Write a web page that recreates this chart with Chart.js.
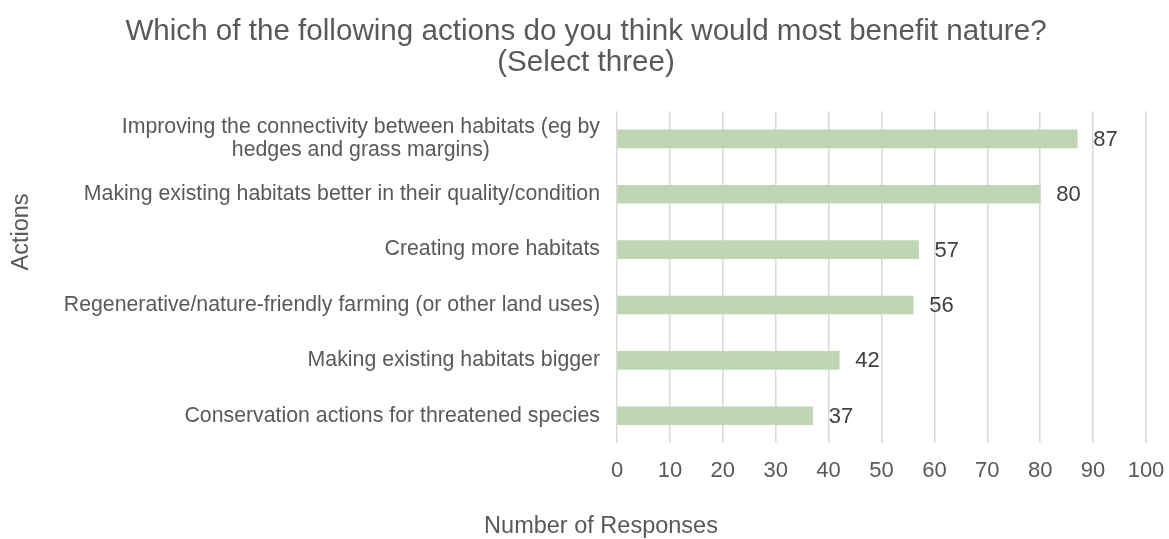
<!DOCTYPE html>
<html>
<head>
<meta charset="utf-8">
<script src="https://cdn.jsdelivr.net/npm/chart.js@4"></script>
<style>
  body { margin: 0; background: #fff; }
  #wrap { width: 1169px; height: 539px; position: relative; }
</style>
</head>
<body>
<div id="wrap"><canvas id="barCanvas" role="img" aria-label="chart"></canvas></div>
<script>
// DATA ----------------------------
const actions = [
  ["Improving the connectivity between habitats (eg by", "hedges and grass margins)"],
  "Making existing habitats better in their quality/condition",
  "Creating more habitats",
  "Regenerative/nature-friendly farming (or other land uses)",
  "Making existing habitats bigger",
  "Conservation actions for threatened species"
];
const responses = [87, 80, 57, 56, 42, 37];
const xTicks = [0, 10, 20, 30, 40, 50, 60, 70, 80, 90, 100];
const xTitle = 'Number of Responses';
const yTitle = 'Actions';

const fontFam = "'Liberation Sans', Arial, sans-serif";
const grey = '#595959';

// value labels at the end of each bar
const valueLabels = {
  id: 'valueLabels',
  afterDatasetsDraw(chart) {
    const ctx = chart.ctx;
    const meta = chart.getDatasetMeta(0);
    ctx.save();
    ctx.font = '22px ' + fontFam;
    ctx.fillStyle = '#404040';
    ctx.textAlign = 'left';
    ctx.textBaseline = 'middle';
    meta.data.forEach((bar, i) => {
      ctx.fillText(responses[i], bar.x + 16, bar.y + 1);
    });
    ctx.restore();
  }
};

// category labels: block right aligned, lines centred on each other (like Excel)
// + axis titles placed where Excel puts them
const catLabels = {
  id: 'catLabels',
  afterDraw(chart) {
    const ctx = chart.ctx;
    const yScale = chart.scales.y;
    const right = yScale.right - 17;
    const lh = 23;
    ctx.save();
    ctx.font = '21.3px ' + fontFam;
    ctx.fillStyle = grey;
    ctx.textBaseline = 'middle';
    ctx.textAlign = 'center';
    actions.forEach((lab, i) => {
      const lines = Array.isArray(lab) ? lab : [lab];
      const w = Math.max(...lines.map(l => ctx.measureText(l).width));
      const cx = right - w / 2;
      const y0 = yScale.getPixelForTick(i) - (lines.length - 1) * lh / 2;
      lines.forEach((l, j) => ctx.fillText(l, cx, y0 + j * lh));
    });

    ctx.font = '23.5px ' + fontFam;
    ctx.fillText(xTitle, 601, chart.height - 12);
    ctx.translate(22, 232);
    ctx.rotate(-Math.PI / 2);
    ctx.fillText(yTitle, 0, 0);
    ctx.restore();
  }
};

// CHART ----------------------------
new Chart(document.getElementById('barCanvas'), {
  type: 'bar',
  data: {
    labels: actions,
    datasets: [{
      data: responses,
      backgroundColor: '#bed6b3',
      barThickness: 18
    }]
  },
  options: {
    indexAxis: 'y',
    responsive: true,
    maintainAspectRatio: false,
    animation: false,
    layout: { padding: { top: 16, right: 5, bottom: 0, left: 8 } },
    plugins: {
      legend: { display: false },
      tooltip: { enabled: false },
      title: {
        display: true,
        text: ['Which of the following actions do you think would most benefit nature?', '(Select three)'],
        color: grey,
        font: { family: fontFam, size: 29.6, weight: 'normal', lineHeight: 1.05 },
        padding: { top: 0, bottom: 33 }
      }
    },
    scales: {
      x: {
        min: 0,
        max: 100,
        afterBuildTicks: (scale) => { scale.ticks = xTicks.map(v => ({ value: v })); },
        afterFit: (scale) => { scale.paddingRight = 23; },
        grid: { color: '#d9d9d9', lineWidth: 1.5, drawTicks: false },
        border: { display: false },
        ticks: { color: grey, font: { family: fontFam, size: 22 }, padding: 14 },
        title: {
          display: true,
          text: xTitle,
          color: 'rgba(0,0,0,0)',
          font: { family: fontFam, size: 23.5 },
          padding: { top: 13, bottom: 0 }
        }
      },
      y: {
        grid: { display: false },
        border: { display: false },
        ticks: { display: false },
        afterFit: (scale) => { scale.width = 609; },
        title: {
          display: true,
          text: yTitle,
          color: 'rgba(0,0,0,0)',
          font: { family: fontFam, size: 23.5 },
          padding: 0
        }
      }
    }
  },
  plugins: [valueLabels, catLabels]
});
</script>
</body>
</html>
